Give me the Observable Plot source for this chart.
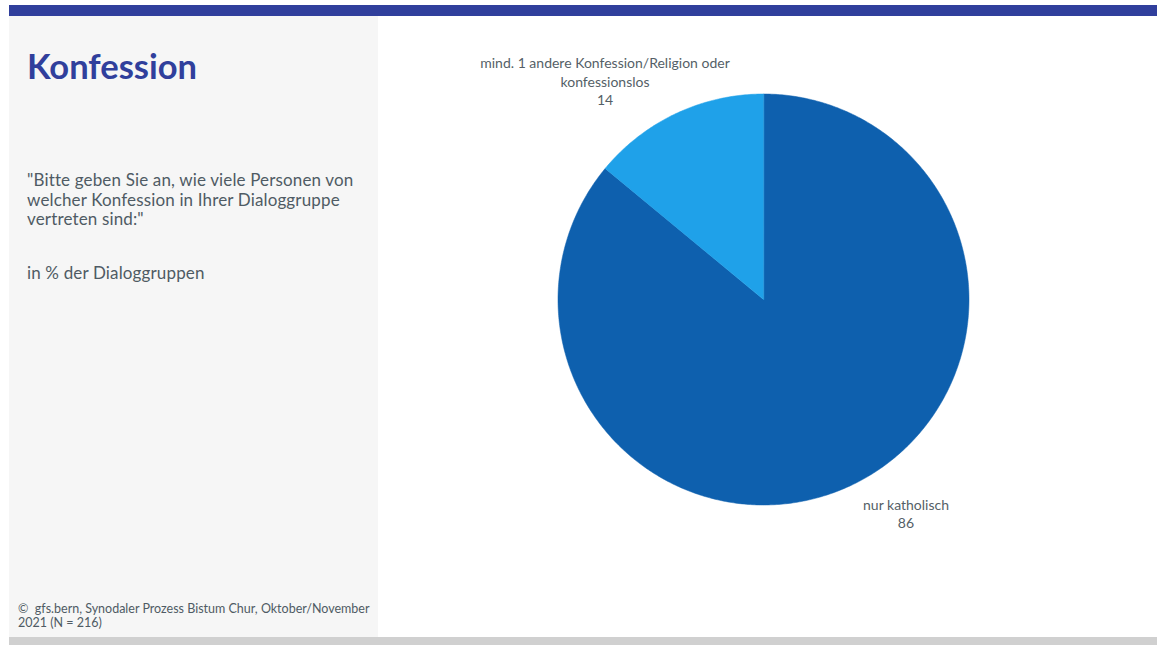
<!DOCTYPE html>
<html>
<head>
<meta charset="utf-8">
<script src="https://cdn.jsdelivr.net/npm/d3@7"></script>
<script src="https://cdn.jsdelivr.net/npm/@observablehq/plot@0.6"></script>
<style>
  html, body { margin: 0; padding: 0; background: #ffffff; width: 1157px; height: 645px; overflow: hidden; font-family: Lato, "Noto Sans", sans-serif; }
  #topbar { position: absolute; left: 9px; top: 5px; width: 1148px; height: 11px; background: #303f9c; }
  #panel { position: absolute; left: 9px; top: 16px; width: 369px; height: 621px; background: #f6f6f6; }
  #bottombar { position: absolute; left: 9px; top: 637px; width: 1148px; height: 8px; background: #d0d0d0; }
  #title { position: absolute; left: 27px; top: 47px; font-size: 34.5px; line-height: 38px; font-weight: 700; color: #303f9c; margin: 0; }
  #question { position: absolute; left: 27px; top: 170px; font-size: 17px; line-height: 19.5px; letter-spacing: 0.15px; color: #4f5b64; white-space: nowrap; }
  #unit { position: absolute; left: 27px; top: 263px; font-size: 17px; line-height: 19.5px; letter-spacing: 0.15px; color: #4f5b64; }
  #source { position: absolute; left: 18px; top: 602px; font-size: 12.5px; line-height: 14px; color: #4f5b64; white-space: nowrap; }
  #chart { position: absolute; left: 378px; top: 16px; }
</style>
</head>
<body>
<div id="topbar"></div>
<div id="panel"></div>
<div id="bottombar"></div>
<h1 id="title">Konfession</h1>
<div id="question">"Bitte geben Sie an, wie viele Personen von<br>welcher Konfession in Ihrer Dialoggruppe<br>vertreten sind:"</div>
<div id="unit">in % der Dialoggruppen</div>
<div id="source">©&nbsp; gfs.bern, Synodaler Prozess Bistum Chur, Oktober/November<br>2021 (N = 216)</div>
<div id="chart"></div>
<script>
// Data
const categories = ["nur katholisch", "mind. 1 andere Konfession/Religion oder konfessionslos"];
const values = [86, 14];
const labelTexts = ["nur katholisch", "mind. 1 andere Konfession/Religion oder\nkonfessionslos"];
const colors = ["#0e60ae", "#1fa1e9"];

// Geometry: slices start at 12 o'clock and run clockwise
const total = d3.sum(values);
let acc = 0;
const slices = categories.map((c, i) => {
  const a0 = acc / total * 2 * Math.PI;
  acc += values[i];
  const a1 = acc / total * 2 * Math.PI;
  return {category: c, value: values[i], label: labelTexts[i], a0, a1, mid: (a0 + a1) / 2};
});
const rows = [];
for (const s of slices) {
  rows.push({category: s.category, x: 0, y: 0});
  const n = Math.max(2, Math.ceil((s.a1 - s.a0) / 0.01));
  for (let k = 0; k <= n; k++) {
    const a = s.a0 + (s.a1 - s.a0) * k / n;
    rows.push({category: s.category, x: Math.sin(a), y: Math.cos(a)});
  }
}
const labelRows = slices.map(s => ({
  category: s.category,
  x: Math.sin(s.mid) * 1.08,
  y: Math.cos(s.mid) * 1.08,
  text: s.label + "\n" + s.value
}));

const W = 779, H = 621;
const cx = 385, cy = 283, R = 205.5;

const chart = Plot.plot({
  width: W,
  height: H,
  marginLeft: cx - R,
  marginRight: W - (cx + R),
  marginTop: cy - R,
  marginBottom: H - (cy + R),
  x: {domain: [-1, 1], axis: null},
  y: {domain: [-1, 1], axis: null},
  color: {domain: categories, range: colors},
  style: {fontFamily: "Lato, 'Noto Sans', sans-serif", background: "transparent"},
  marks: [
    Plot.line(rows, {x: "x", y: "y", z: "category", fill: "category", stroke: "category", strokeWidth: 0.5, curve: "linear-closed"}),
    Plot.text(labelRows.filter(d => d.category === categories[1]), {
      x: "x", y: "y", text: "text", fontSize: 14, lineHeight: 1.3, fill: "#555f67", dx: -64, dy: -18
    }),
    Plot.text(labelRows.filter(d => d.category === categories[0]), {
      x: "x", y: "y", text: "text", fontSize: 14, lineHeight: 1.3, fill: "#555f67", dx: 48, dy: 13
    })
  ]
});
document.getElementById("chart").appendChild(chart);
</script>
</body>
</html>
